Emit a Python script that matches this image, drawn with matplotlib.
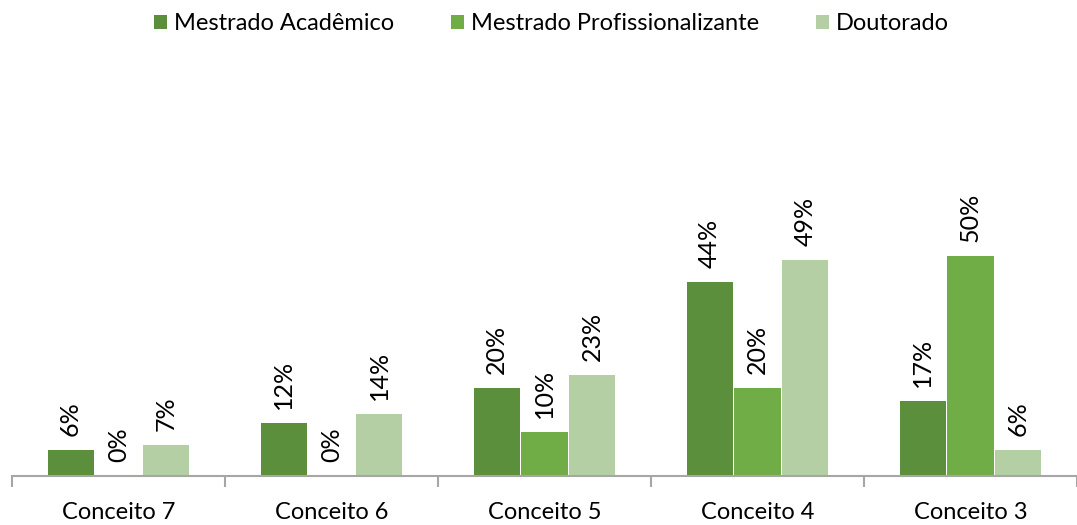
import numpy as np
import matplotlib.pyplot as plt

categories = ["Conceito 7", "Conceito 6", "Conceito 5", "Conceito 4", "Conceito 3"]
series = ["Mestrado Acadêmico", "Mestrado Profissionalizante", "Doutorado"]
mestrado_academico = [6, 12, 20, 44, 17]
mestrado_profissional = [0, 0, 10, 20, 50]
doutorado = [7, 14, 23, 49, 6]
colors = ["#5B8F3B", "#70AD47", "#B4CFA4"]

plt.rcParams['font.family'] = ['Lato', 'DejaVu Sans']

fig = plt.figure(figsize=(10.77, 5.25), dpi=100)
ax = fig.add_axes([12 / 1077, 49 / 525, 1065 / 1077, 410 / 525])

x = np.arange(len(categories))
width = 0.216
step = 0.225
values = [mestrado_academico, mestrado_profissional, doutorado]

for i, (name, vals) in enumerate(zip(series, values)):
    pos = x + (i - 1) * step
    ax.bar(pos, vals, width, color=colors[i], label=name, zorder=2)
    for px, v in zip(pos, vals):
        ax.annotate(f"{v}%", (px, v), xytext=(0, 10), textcoords="offset points",
                    rotation=90, ha="center", va="bottom", fontsize=18, color="black")

ax.set_xlim(-0.5, len(categories) - 0.5)
ax.set_ylim(0, 93)
ax.set_xticks(np.arange(len(categories) + 1) - 0.5)
ax.set_xticklabels([])
ax.set_xticks(x, minor=True)
ax.set_xticklabels(categories, minor=True, fontsize=17)
ax.tick_params(axis="x", which="major", length=8, width=1.5, color="#a6a6a6", direction="out")
ax.tick_params(axis="x", which="minor", length=0, pad=19)
ax.set_yticks([])
for side in ["top", "right", "left"]:
    ax.spines[side].set_visible(False)
ax.spines["bottom"].set_color("#a6a6a6")
ax.spines["bottom"].set_linewidth(1.5)

handles, lbls = ax.get_legend_handles_labels()
fig.legend(handles, lbls, loc="upper center", ncol=3, bbox_to_anchor=(0.512, 1.015),
           frameon=False, fontsize=17, handlelength=0.55, handleheight=0.55,
           handletextpad=0.3, columnspacing=2.4)

plt.savefig("out.png", dpi=100)
